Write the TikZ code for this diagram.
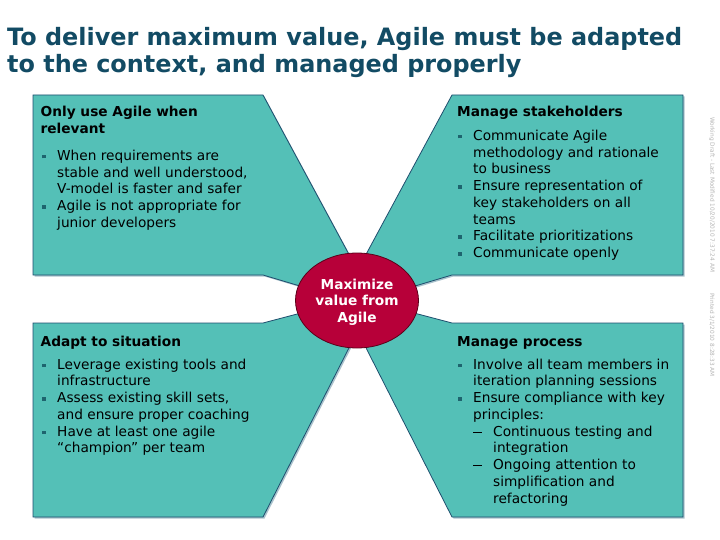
\documentclass[tikz,border=0pt]{standalone}
\usepackage{fontspec}
\setmainfont{DejaVu Sans}
\usetikzlibrary{shapes.geometric}
\definecolor{tealfill}{RGB}{84,192,183}
\definecolor{edgec}{RGB}{31,78,110}
\definecolor{shadowc}{RGB}{170,195,205}
\definecolor{redfill}{RGB}{183,0,57}
\definecolor{rededge}{RGB}{90,0,25}
\definecolor{titlec}{RGB}{18,75,100}
\definecolor{bulc}{RGB}{30,100,110}
\definecolor{vtextc}{RGB}{180,180,180}
\newcommand\bodyfont{\fontsize{13.7}{16.75}\selectfont}
\newcommand\mb{\textcolor{bulc}{\rule[2pt]{3.5pt}{3.5pt}}}
\newcommand\subd{\makebox[20pt][l]{\rule[3.6pt]{9pt}{0.7pt}}}
\newcommand\subi{\hspace*{20pt}}
\newcommand\blist[1]{\begin{tabular}[t]{@{}p{15pt}@{}l@{}}#1\end{tabular}}
\begin{document}
\begin{tikzpicture}[x=1pt,y=-1pt,
  panel/.style={fill=tealfill, draw=edgec, line width=0.8pt, line join=miter,
    preaction={fill=shadowc, transform canvas={shift={(1.5pt,-1.5pt)}}}},
  head/.style={anchor=base west, inner sep=0pt, align=left,
    font=\bfseries\fontsize{13.7}{17}\selectfont},
  body/.style={anchor=base west, inner sep=0pt, font=\bodyfont},
  vtext/.style={anchor=west, inner sep=0pt, rotate=-90, text=vtextc,
    font=\fontsize{5.8}{6}\selectfont}]
\useasboundingbox (0,0) rectangle (720,540);

% title
\node[anchor=base west, inner sep=0pt, text=titlec,
  font=\bfseries\fontsize{23.9}{27}\selectfont] (title) at (7,46)
  {\begin{tabular}[t]{@{}l@{}}To deliver maximum value, Agile must be adapted\\
   to the context, and managed properly\end{tabular}};

% panels
\path[panel] (33,95) -- (263,95) -- (352,260) -- (320,292) -- (263,275) -- (33,275) -- cycle;
\path[panel] (683,95) -- (452,95) -- (363,260) -- (395,292) -- (452,275) -- (683,275) -- cycle;
\path[panel] (33,323) -- (263,323) -- (320,308) -- (353,340) -- (263,517) -- (33,517) -- cycle;
\path[panel] (683,323) -- (452,323) -- (395,308) -- (362,340) -- (452,517) -- (683,517) -- cycle;

% centre
\node[ellipse, fill=redfill, draw=rededge, line width=0.8pt, inner sep=0pt,
  minimum width=123pt, minimum height=95pt] (ctr) at (357,300.5) {};
\node[anchor=base, inner sep=0pt, text=white,
  font=\bfseries\fontsize{13.7}{16.5}\selectfont] (ctrtext) at (357,289)
  {\begin{tabular}[t]{@{}c@{}}Maximize\\value from\\Agile\end{tabular}};

% top left
\node[head] (tlh) at (40.5,117) {\begin{tabular}[t]{@{}l@{}}Only use Agile when\\relevant\end{tabular}};
\node[body] (tlb) at (42,160.5) {\blist{%
\mb & When requirements are\\
    & stable and well understood,\\
    & V-model is faster and safer\\
\mb & Agile is not appropriate for\\
    & junior developers}};

% top right
\node[head] (trh) at (457,117) {Manage stakeholders};
\node[body] (trb) at (458,140.5) {\blist{%
\mb & Communicate Agile\\
    & methodology and rationale\\
    & to business\\
\mb & Ensure representation of\\
    & key stakeholders on all\\
    & teams\\
\mb & Facilitate prioritizations\\
\mb & Communicate openly}};

% bottom left
\node[head] (blh) at (40.5,346) {Adapt to situation};
\node[body] (blb) at (42,369) {\blist{%
\mb & Leverage existing tools and\\
    & infrastructure\\
\mb & Assess existing skill sets,\\
    & and ensure proper coaching\\
\mb & Have at least one agile\\
    & “champion” per team}};

% bottom right
\node[head] (brh) at (457,346) {Manage process};
\node[body] (brb) at (458,369) {\blist{%
\mb & Involve all team members in\\
    & iteration planning sessions\\
\mb & Ensure compliance with key\\
    & principles:\\
    & \subd Continuous testing and\\
    & \subi integration\\
    & \subd Ongoing attention to\\
    & \subi simplification and\\
    & \subi refactoring}};

% side notes
\node[vtext] (draft) at (712,117) {Working Draft - Last Modified 10/20/2010 7:37:24 AM};
\node[vtext] (printed) at (712,293) {Printed 3/1/2010 8:28:33 AM};
\end{tikzpicture}
\end{document}
